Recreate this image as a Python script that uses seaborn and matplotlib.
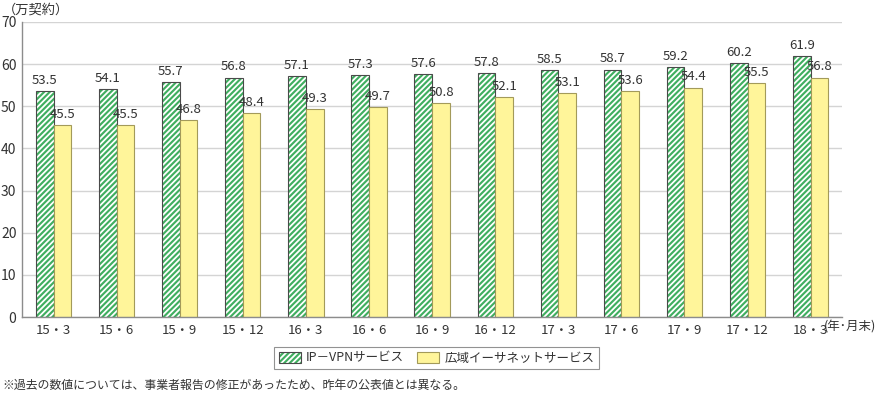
import numpy as np
import pandas as pd
import matplotlib
matplotlib.use("Agg")
import matplotlib.pyplot as plt
import matplotlib.colors as mcolors
from matplotlib.patches import Patch
import seaborn as sns

# ---------- DATA ----------
periods = ["15・3", "15・6", "15・9", "15・12", "16・3", "16・6", "16・9",
           "16・12", "17・3", "17・6", "17・9", "17・12", "18・3"]
ipvpn = [53.5, 54.1, 55.7, 56.8, 57.1, 57.3, 57.6, 57.8, 58.5, 58.7, 59.2, 60.2, 61.9]
ether = [45.5, 45.5, 46.8, 48.4, 49.3, 49.7, 50.8, 52.1, 53.1, 53.6, 54.4, 55.5, 56.8]
series_names = ["IP－VPNサービス", "広域イーサネットサービス"]
y_ticks = [0, 10, 20, 30, 40, 50, 60, 70]

df = pd.DataFrame({
    "period": periods * 2,
    "value": ipvpn + ether,
    "service": [series_names[0]] * len(periods) + [series_names[1]] * len(periods),
})

# ---------- STYLE ----------
sns.set_style("white")
plt.rcParams["font.family"] = ["Noto Sans CJK JP", "DejaVu Sans"]
plt.rcParams["hatch.linewidth"] = 1.3

green = "#3fae5f"
yellow = "#fff59a"
text_col = "#333333"
green_edge = "#4a4a4a"
yellow_edge = "#a39a5a"

fig = plt.figure(figsize=(8.8, 3.98), dpi=100)
ax = fig.add_axes([0.025, 0.2035, 0.932, 0.7415])

sns.barplot(data=df, x="period", y="value", hue="service", order=periods,
            hue_order=series_names, palette=[green, yellow], saturation=1,
            width=0.56, gap=0, ax=ax, legend=False)

# green bars: white stripes, gray outline
for p in ax.containers[0]:
    p.set_hatch("//////")
    p.set_edgecolor(green_edge)
    p.set_linewidth(0.8)
    p._hatch_color = mcolors.to_rgba("white")
for p in ax.containers[1]:
    p.set_edgecolor(yellow_edge)
    p.set_linewidth(0.8)

lbls_g = ax.bar_label(ax.containers[0], fmt="%.1f", padding=3, fontsize=9.5, color=text_col)
lbls_y = ax.bar_label(ax.containers[1], fmt="%.1f", padding=3, fontsize=9.5, color=text_col)
for t in lbls_g:
    t.set_x(t.get_position()[0] - 0.04)
for t in lbls_y:
    t.set_x(t.get_position()[0] + 0.12)

# ---------- AXES ----------
ax.set_ylim(0, 70)
ax.set_xlim(-0.5, len(periods) - 0.5)
ax.set_yticks(y_ticks)
ax.yaxis.grid(True, color="#d4d4d4", linewidth=1)
ax.set_axisbelow(True)
ax.tick_params(axis="y", length=0, labelsize=10, labelcolor=text_col, pad=4)
ax.tick_params(axis="x", length=0, labelsize=9.5, labelcolor=text_col, pad=5)
ax.set_xticks(range(len(periods)))
ax.set_xticklabels(periods)
ax.set_xticks(np.arange(0.5, len(periods) - 0.5 + 0.01, 1), minor=True)
ax.tick_params(axis="x", which="minor", direction="in", length=4, color="#888888")
ax.set_xlabel("")
ax.set_ylabel("")
for side in ["top", "right"]:
    ax.spines[side].set_visible(False)
for side in ["left", "bottom"]:
    ax.spines[side].set_color("#8c8c8c")
    ax.spines[side].set_linewidth(1)

fig.text(0.003, 0.975, "（万契約）", fontsize=9.5, color=text_col, va="center", ha="left")
fig.text(0.996, 0.178, "(年･月末)", fontsize=9, color=text_col, va="center", ha="right")

# ---------- LEGEND ----------
h1 = Patch(facecolor=green, edgecolor=green_edge, hatch="//////", linewidth=0.8)
h1._hatch_color = mcolors.to_rgba("white")
h2 = Patch(facecolor=yellow, edgecolor=yellow_edge, linewidth=0.8)
leg = fig.legend([h1, h2], series_names, loc="center", bbox_to_anchor=(0.496, 0.1),
                 ncol=2, frameon=True, fancybox=False, fontsize=9,
                 handlelength=1.8, handleheight=0.9, columnspacing=1.0,
                 borderpad=0.35, handletextpad=0.4)
leg.get_frame().set_edgecolor("#777777")
leg.get_frame().set_linewidth(0.8)
for t in leg.get_texts():
    t.set_color(text_col)

fig.text(0.003, 0.032, "※過去の数値については、事業者報告の修正があったため、昨年の公表値とは異なる。",
         fontsize=8.6, color=text_col, va="center", ha="left")

fig.savefig("out.png", dpi=100)
